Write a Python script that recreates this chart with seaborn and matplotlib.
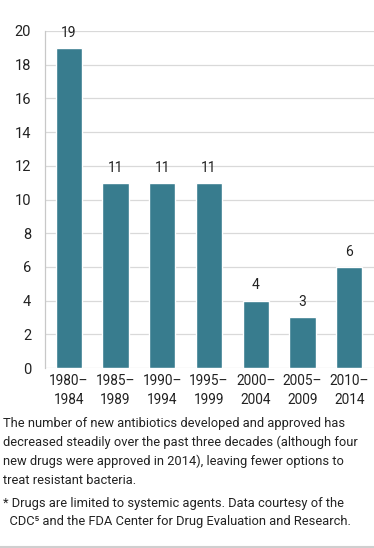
import matplotlib
matplotlib.use("Agg")
import matplotlib.pyplot as plt
import seaborn as sns
import pandas as pd

# data
periods = ["1980–\n1984", "1985–\n1989", "1990–\n1994", "1995–\n1999",
           "2000–\n2004", "2005–\n2009", "2010–\n2014"]
drugs = [19, 11, 11, 11, 4, 3, 6]
y_ticks = list(range(0, 21, 2))

caption = ("The number of new antibiotics developed and approved has\n"
           "decreased steadily over the past three decades (although four\n"
           "new drugs were approved in 2014), leaving fewer options to\n"
           "treat resistant bacteria.")
footnote = ("* Drugs are limited to systemic agents. Data courtesy of the\n"
            "  CDC⁵ and the FDA Center for Drug Evaluation and Research.")

df = pd.DataFrame({"period": periods, "drugs": drugs})

sns.set_style("white")
plt.rcParams["font.family"] = ["Roboto", "DejaVu Sans"]

W, H = 374, 548
fig = plt.figure(figsize=(W / 100, H / 100), dpi=100)
ax = fig.add_axes([45 / W, 1 - 368 / H, 1 - 45 / W, (368 - 31) / H])

bar_color = "#387c8e"
sns.barplot(data=df, x="period", y="drugs", color=bar_color, width=0.56,
            saturation=1, ax=ax)

for i, v in enumerate(drugs):
    ax.annotate(str(v), (i, v), xytext=(0, 8), textcoords="offset points",
                ha="center", va="baseline", fontsize=10, color="#222222")

ax.set_ylim(0, 20)
ax.set_xlim(-0.51, 6.53)
ax.set_yticks(y_ticks)
ax.yaxis.grid(True, color="#d9d9d9", linewidth=0.9)
ax.set_axisbelow(True)
for s in ["top", "right", "bottom"]:
    ax.spines[s].set_visible(False)
ax.spines["left"].set_color("#c8c8c8")
ax.spines["left"].set_linewidth(0.9)
ax.tick_params(axis="y", length=4, color="#c8c8c8", labelsize=10.5,
               labelcolor="#222222", pad=6)
ax.tick_params(axis="x", length=0, labelsize=9.8, labelcolor="#222222", pad=4)
ax.set_xlabel("")
ax.set_ylabel("")
for lab in ax.get_xticklabels():
    lab.set_linespacing(1.45)

fig.text(3 / W, 1 - 417 / H, caption, fontsize=9.3, color="#222222",
         va="top", ha="left", linespacing=1.55)
fig.text(3 / W, 1 - 497 / H, footnote, fontsize=9.3, color="#222222",
         va="top", ha="left", linespacing=1.55)

fig.add_artist(plt.Line2D([0, 1], [1 - 546.5 / H] * 2, color="#cfcfcf",
                          linewidth=1.5, transform=fig.transFigure))

fig.savefig("out.png", dpi=100)
